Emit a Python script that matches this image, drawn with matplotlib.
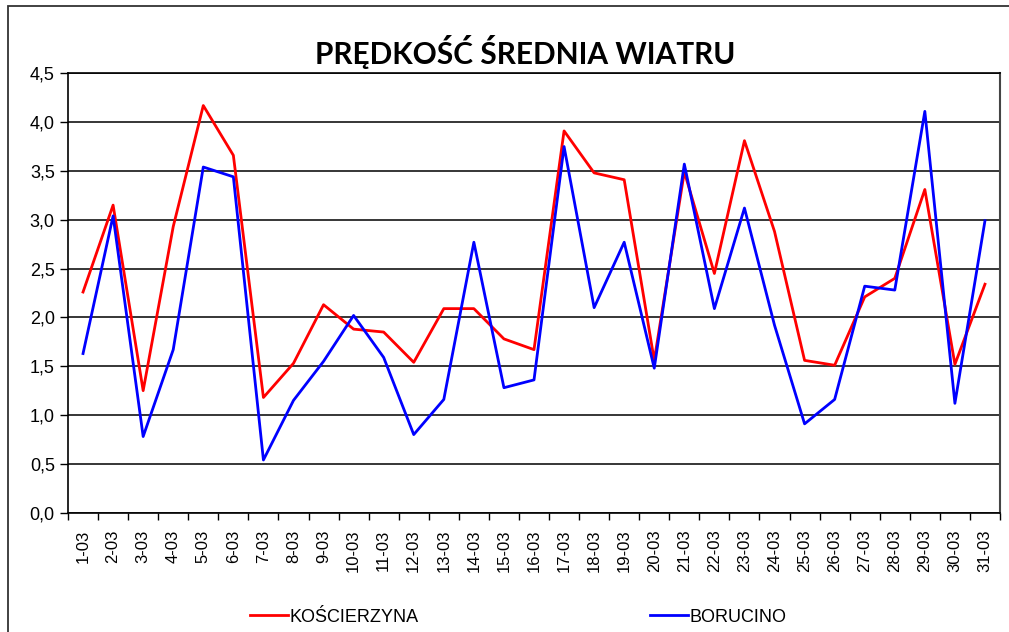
import matplotlib
matplotlib.use("Agg")
import matplotlib.pyplot as plt
from matplotlib.patches import Rectangle
from matplotlib.ticker import FuncFormatter

# days of March
days = [f"{d}-03" for d in range(1, 32)]

koscierzyna = [2.26, 3.15, 1.25, 2.93, 4.17, 3.66, 1.18, 1.53, 2.13, 1.88,
               1.85, 1.54, 2.09, 2.09, 1.78, 1.67, 3.91, 3.48, 3.41, 1.56,
               3.49, 2.45, 3.81, 2.88, 1.56, 1.51, 2.21, 2.40, 3.31, 1.52,
               2.34]
borucino = [1.63, 3.04, 0.78, 1.67, 3.54, 3.44, 0.54, 1.15, 1.55, 2.02,
            1.59, 0.80, 1.16, 2.77, 1.28, 1.36, 3.75, 2.10, 2.77, 1.48,
            3.57, 2.09, 3.12, 1.92, 0.91, 1.16, 2.32, 2.28, 4.11, 1.12,
            2.99]

W, H = 1009, 632
fig = plt.figure(figsize=(W / 100, H / 100), dpi=100)
ax = fig.add_axes([68 / W, 1 - 512.7 / H, (1000 - 68) / W, (512.7 - 73.3) / H])

# outer chart border (only left and top visible in the picture)
fig.patches.append(Rectangle((8 / W, -0.1), 1.2, 1.1 - 6 / H, transform=fig.transFigure,
                             fill=False, edgecolor="#333333", linewidth=1.3))

xs = [i + 0.5 for i in range(len(days))]
ax.plot(xs, koscierzyna, color="#ff0000", linewidth=2.0, label="KOŚCIERZYNA")
ax.plot(xs, borucino, color="#0000ff", linewidth=2.0, label="BORUCINO")

ax.set_xlim(0, len(days))
ax.set_ylim(0, 4.5)
ax.set_yticks([i * 0.5 for i in range(10)])
ax.yaxis.set_major_formatter(FuncFormatter(lambda v, p: f"{v:.1f}".replace(".", ",")))
ax.grid(axis="y", color="black", linewidth=1.1)
ax.set_axisbelow(True)

ax.set_xticks(range(len(days) + 1))
ax.set_xticklabels([])
ax.set_xticks(xs, minor=True)
ax.set_xticklabels(days, minor=True, rotation=90, fontsize=12,
                   family="Liberation Sans")
ax.tick_params(axis="x", which="major", direction="out", length=5, width=1)
ax.tick_params(axis="x", which="minor", length=0, pad=12)
ax.tick_params(axis="y", direction="out", length=6, width=1, labelsize=13)
for lab in ax.get_yticklabels():
    lab.set_family("Liberation Sans")

for s in ["left", "bottom", "top"]:
    ax.spines[s].set_color("black")
    ax.spines[s].set_linewidth(1.2)
ax.spines["right"].set_color("#444444")
ax.spines["right"].set_linewidth(1.5)

fig.text(525 / W, 1 - 52 / H, "PRĘDKOŚĆ ŚREDNIA WIATRU", ha="center", va="center",
         fontsize=21.5, fontweight="bold", family="Lato")

fig.legend(loc="center left", bbox_to_anchor=(241 / W, 1 - 617 / H), ncol=2,
           frameon=False, borderpad=0, handlelength=2.1, handletextpad=0.1,
           columnspacing=12.8, prop={"family": "Liberation Sans", "size": 13})

fig.savefig("out.png", dpi=100)
